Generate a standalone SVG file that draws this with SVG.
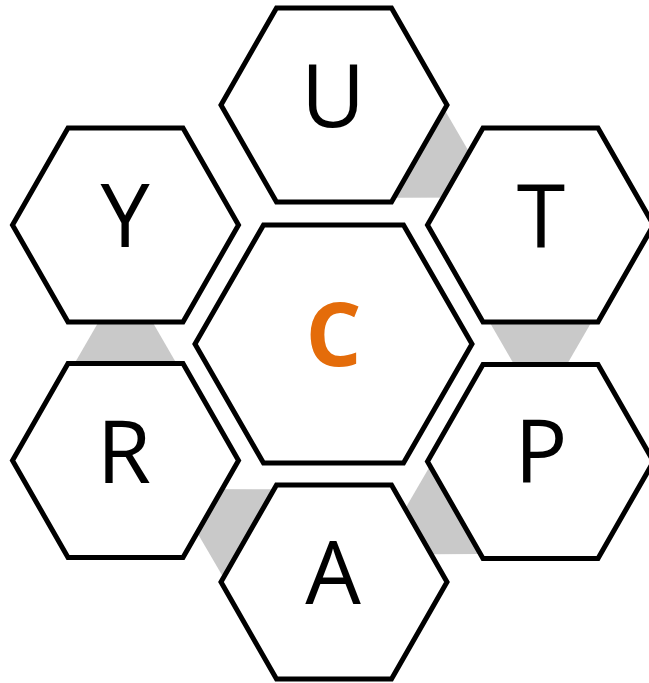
<svg xmlns="http://www.w3.org/2000/svg" xmlns:xlink="http://www.w3.org/1999/xlink" width="649" height="683" viewBox="0 0 649 683">
  <style>
    .hex { fill: #FFFFFF; stroke: #000000; stroke-width: 5; stroke-linejoin: miter; }
    .tri { fill: #C9C9C9; stroke: none; }
    .lbl { font-family: "Open Sans", "Noto Sans", "Liberation Sans", sans-serif; font-size: 88px; fill: #000000; text-anchor: middle; }
    .ctr { font-family: "Open Sans", "Noto Sans", "Liberation Sans", sans-serif; font-size: 88px; font-weight: bold; fill: #E46C0A; text-anchor: middle; }
  </style>
  <defs>
    <polygon id="hexOuter" points="-113,0 -57.5,-97 57.5,-97 113,0 57.5,97 -57.5,97"/>
  </defs>
  <rect x="0" y="0" width="649" height="683" fill="#FFFFFF"/>
  <g id="connectors">
    <polygon class="tri" points="444.3,109.3 393.7,197.7 495.5,197.6"/>
    <polygon class="tri" points="489.5,322 591.5,322 540.5,410.3"/>
    <polygon class="tri" points="430,466 480.5,554 378.5,554.5"/>
    <polygon class="tri" points="274,489.3 223.5,577.7 171.7,489"/>
    <polygon class="tri" points="74.5,363.5 176.5,363.5 125.5,275.2"/>
  </g>
  <g id="node-U">
    <use xlink:href="#hexOuter" class="hex" transform="translate(334,105)"/>
    <text class="lbl" x="333" y="127">U</text>
  </g>
  <g id="node-T">
    <use xlink:href="#hexOuter" class="hex" transform="translate(540.5,225)"/>
    <text class="lbl" x="541" y="247">T</text>
  </g>
  <g id="node-P">
    <use xlink:href="#hexOuter" class="hex" transform="translate(540.5,461.5)"/>
    <text class="lbl" x="541" y="483">P</text>
  </g>
  <g id="node-A">
    <use xlink:href="#hexOuter" class="hex" transform="translate(334,582)"/>
    <text class="lbl" x="333" y="604">A</text>
  </g>
  <g id="node-R">
    <use xlink:href="#hexOuter" class="hex" transform="translate(125.5,460.5)"/>
    <text class="lbl" x="124" y="483">R</text>
  </g>
  <g id="node-Y">
    <use xlink:href="#hexOuter" class="hex" transform="translate(125.5,225)"/>
    <text class="lbl" x="125" y="247">Y</text>
  </g>
  <g id="node-C">
    <polygon class="hex" points="195,344 263.5,225 403.5,225 472,344 403.5,463 263.5,463"/>
    <text class="ctr" x="333.5" y="366">C</text>
  </g>
</svg>
